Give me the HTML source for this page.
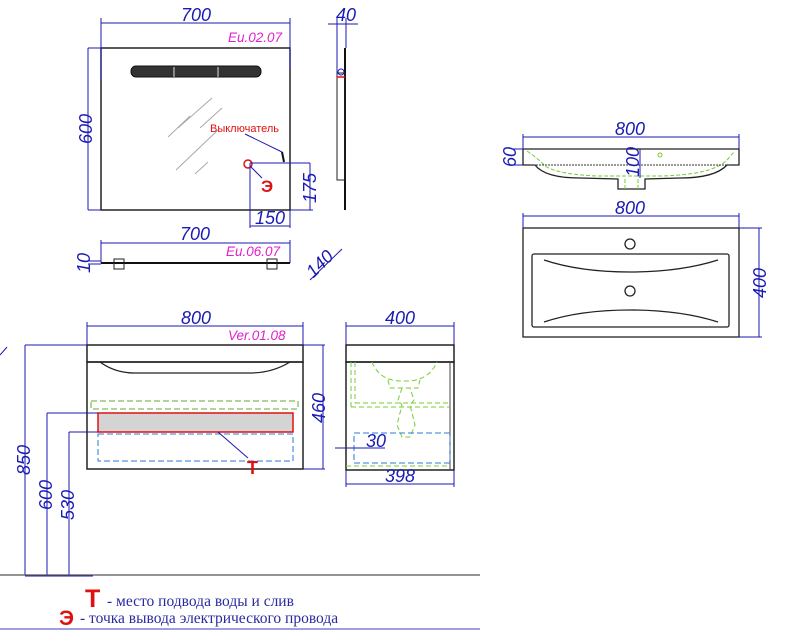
<!DOCTYPE html>
<html><head><meta charset="utf-8"><style>
html,body{margin:0;padding:0;background:#fff;width:800px;height:635px;overflow:hidden}
svg{display:block}
.d{font-family:"Liberation Sans",sans-serif;font-style:italic;fill:#1a1ab4;font-size:18px}
.m{font-family:"Liberation Sans",sans-serif;font-style:italic;fill:#e020d0;font-size:13.5px}
</style></head><body>
<svg width="800" height="635" viewBox="0 0 800 635" xmlns="http://www.w3.org/2000/svg">
<g fill="none" stroke-width="1">
<rect x="101" y="48" width="189" height="162" stroke="#222" stroke-width="1.5"/>
<rect x="131" y="66" width="130" height="11" rx="5" fill="#333" stroke="#111"/>
<line x1="174" y1="67" x2="174" y2="77" stroke="#ddd"/><line x1="218" y1="67" x2="218" y2="77" stroke="#ddd"/>
<g stroke="#aaa"><line x1="168" y1="137" x2="190" y2="116"/><line x1="178" y1="128" x2="212" y2="98"/><line x1="200" y1="128" x2="222" y2="108"/><line x1="176" y1="170" x2="218" y2="130"/><line x1="195" y1="174" x2="208" y2="162"/></g>
<line x1="245" y1="134" x2="282" y2="152" stroke="#1a1ab4"/>
<line x1="282" y1="152" x2="284" y2="162" stroke="#111" stroke-width="2"/>
<circle cx="248" cy="164" r="4" stroke="#e01010" stroke-width="1.5"/>
<line x1="250" y1="166" x2="262" y2="178" stroke="#1a1ab4"/>
<g stroke="#1a1ab4">
<line x1="101" y1="23" x2="290" y2="23"/><line x1="101" y1="18" x2="101" y2="80"/><line x1="290" y1="18" x2="290" y2="70"/>
<line x1="88" y1="48" x2="101" y2="48"/><line x1="88" y1="210" x2="101" y2="210"/><line x1="88" y1="48" x2="88" y2="210"/>
<line x1="250" y1="163" x2="310" y2="163"/><line x1="310" y1="163" x2="310" y2="210"/><line x1="290" y1="210" x2="313" y2="210"/>
<line x1="250" y1="163" x2="250" y2="228"/><line x1="250" y1="226" x2="290" y2="226"/><line x1="290" y1="210" x2="290" y2="228"/>
</g>
<line x1="345" y1="48" x2="345" y2="210" stroke="#111" stroke-width="2"/>
<rect x="337" y="73" width="8" height="107" stroke="#222"/>
<circle cx="341" cy="72" r="3" stroke="#1a1ab4"/><line x1="337" y1="77" x2="345" y2="77" stroke="#e01010" stroke-width="1.5"/>
<g stroke="#1a1ab4"><line x1="328" y1="24" x2="358" y2="24"/><line x1="337" y1="18" x2="337" y2="73"/><line x1="346" y1="18" x2="346" y2="48"/></g>
<g stroke="#1a1ab4"><line x1="101" y1="243" x2="290" y2="243"/><line x1="101" y1="240" x2="101" y2="263"/><line x1="290" y1="240" x2="290" y2="263"/>
<line x1="88" y1="261" x2="101" y2="261"/><line x1="88" y1="264" x2="101" y2="264"/>
<line x1="310" y1="280" x2="342" y2="249"/></g>
<line x1="101" y1="263" x2="290" y2="263" stroke="#111" stroke-width="2"/>
<rect x="114" y="259" width="10" height="10" stroke="#222"/><rect x="267" y="259" width="10" height="10" stroke="#222"/>
<rect x="87" y="345" width="216" height="17" stroke="#222" stroke-width="1.5"/>
<rect x="87" y="362" width="216" height="107" stroke="#222" stroke-width="1.5"/>
<path d="M100 362 Q115 373 135 373 L250 373 Q272 373 290 362" stroke="#222" stroke-width="1.3"/>
<rect x="91" y="401" width="207" height="8" stroke="#6a3" stroke-dasharray="6 3"/>
<rect x="98" y="413" width="195" height="19" fill="#d4d4d4" stroke="#e01010" stroke-width="1.5"/>
<rect x="98" y="434" width="195" height="27" stroke="#2a7ad8" stroke-dasharray="6 3"/>
<line x1="218" y1="432" x2="248" y2="458" stroke="#1a1ab4"/>
<g stroke="#1a1ab4">
<line x1="87" y1="326" x2="303" y2="326"/><line x1="87" y1="322" x2="87" y2="345"/><line x1="303" y1="322" x2="303" y2="345"/>
<line x1="303" y1="345" x2="325" y2="345"/><line x1="303" y1="469" x2="325" y2="469"/><line x1="323" y1="345" x2="323" y2="469"/>
<line x1="25" y1="345" x2="87" y2="345"/><line x1="25" y1="345" x2="25" y2="575"/>
<line x1="47" y1="413" x2="98" y2="413"/><line x1="47" y1="413" x2="47" y2="575"/>
<line x1="69" y1="432" x2="98" y2="432"/><line x1="69" y1="432" x2="69" y2="575"/>
<line x1="25" y1="576" x2="93" y2="576"/>
<line x1="0" y1="355" x2="7" y2="347"/>
</g>
<line x1="0" y1="575" x2="480" y2="575" stroke="#555" stroke-width="1.3"/>
<line x1="0" y1="629" x2="480" y2="629" stroke="#6666cc" stroke-width="1.3"/>
<rect x="346" y="345" width="108" height="17" stroke="#222" stroke-width="1.5"/>
<rect x="346" y="362" width="108" height="108" stroke="#222" stroke-width="1.5"/>
<line x1="450" y1="362" x2="450" y2="470" stroke="#444"/>
<g stroke="#7c3" stroke-dasharray="5 3">
<line x1="351" y1="362" x2="351" y2="407"/><line x1="355" y1="362" x2="355" y2="403"/>
<line x1="351" y1="407" x2="450" y2="407"/><line x1="355" y1="403" x2="450" y2="403"/>
<path d="M372 362 Q380 382 404 381 Q428 382 437 362"/>
<path d="M388 380 L390 388 L418 388 L420 380"/>
<path d="M402 388 L398 400 L402 405 L397 425 L402 437 L410 437 L415 425 L410 405 L414 400 L410 388"/>
<line x1="346" y1="466" x2="450" y2="466"/>
</g>
<rect x="354" y="433" width="96" height="30" stroke="#2a7ad8" stroke-dasharray="6 3"/>
<g stroke="#1a1ab4">
<line x1="346" y1="326" x2="454" y2="326"/><line x1="346" y1="322" x2="346" y2="345"/><line x1="454" y1="322" x2="454" y2="345"/>
<line x1="346" y1="484" x2="454" y2="484"/><line x1="346" y1="470" x2="346" y2="487"/><line x1="454" y1="470" x2="454" y2="487"/>
<line x1="335" y1="448" x2="385" y2="448"/>
</g>
<path d="M523 149 L739 149 L739 165 L727 165 Q715 178 680 178 L645 179 L645 189 L618 189 L618 179 L580 178 Q545 178 535 165 L523 165 Z" stroke="#222" stroke-width="1.3"/>
<g stroke="#7c3" stroke-dasharray="4 2"><path d="M527 151 Q540 160 545 166 Q560 175 600 176 L660 176 Q712 175 727 160 L735 151"/><line x1="530" y1="165" x2="731" y2="165" stroke="#333" stroke-dasharray="2 1"/><line x1="625" y1="179" x2="625" y2="189"/><line x1="638" y1="179" x2="638" y2="189"/></g>
<circle cx="660" cy="155" r="2" stroke="#7c3"/>
<g stroke="#1a1ab4">
<line x1="523" y1="137" x2="739" y2="137"/><line x1="523" y1="134" x2="523" y2="149"/><line x1="739" y1="134" x2="739" y2="149"/>
<line x1="512" y1="149" x2="523" y2="149"/><line x1="512" y1="165" x2="523" y2="165"/>
<line x1="640" y1="149" x2="640" y2="178"/>
</g>
<rect x="523" y="228" width="216" height="109" stroke="#222" stroke-width="1.3"/>
<rect x="532" y="254" width="197" height="73" rx="2" stroke="#222" stroke-width="1.3"/>
<path d="M544 260 Q580 272 630 272 Q680 272 718 260" stroke="#222" stroke-width="1.3"/>
<path d="M544 322 Q580 310 630 310 Q680 310 718 322" stroke="#222" stroke-width="1.3"/>
<circle cx="630" cy="244" r="5" stroke="#222" stroke-width="1.3"/><circle cx="630" cy="291" r="5" stroke="#222" stroke-width="1.3"/>
<g stroke="#1a1ab4">
<line x1="523" y1="216" x2="739" y2="216"/><line x1="523" y1="213" x2="523" y2="228"/><line x1="739" y1="213" x2="739" y2="228"/>
<line x1="739" y1="228" x2="762" y2="228"/><line x1="739" y1="337" x2="762" y2="337"/><line x1="759" y1="228" x2="759" y2="337"/>
</g>
</g>
<text class="d" x="196" y="21" text-anchor="middle">700</text>
<text class="m" x="228" y="42">Eu.02.07</text>
<text class="d" transform="translate(92 129) rotate(-90)" text-anchor="middle">600</text>
<text x="210" y="132" font-family="Liberation Sans,sans-serif" font-size="11" fill="#e01010">Выключатель</text>
<text x="261" y="192" font-family="Liberation Sans,sans-serif" font-size="17" font-weight="bold" fill="#e01010">Э</text>
<text class="d" transform="translate(316 188) rotate(-90)" text-anchor="middle">175</text>
<text class="d" x="270" y="224" text-anchor="middle">150</text>
<text class="d" x="346" y="21" text-anchor="middle">40</text>
<text class="d" x="195" y="240" text-anchor="middle">700</text>
<text class="m" x="226" y="256">Eu.06.07</text>
<text class="d" transform="translate(90 263) rotate(-90)" text-anchor="middle">10</text>
<text class="d" transform="translate(324 268) rotate(-45)" text-anchor="middle">140</text>
<text class="d" x="196" y="324" text-anchor="middle">800</text>
<text class="m" x="228" y="340">Ver.01.08</text>
<text class="d" transform="translate(325 408) rotate(-90)" text-anchor="middle">460</text>
<text class="d" transform="translate(30 460) rotate(-90)" text-anchor="middle">850</text>
<text class="d" transform="translate(52 495) rotate(-90)" text-anchor="middle">600</text>
<text class="d" transform="translate(74 505) rotate(-90)" text-anchor="middle">530</text>
<text x="247" y="474" font-family="Liberation Sans,sans-serif" font-size="18" font-weight="bold" fill="#e01010">Т</text>
<text class="d" x="400" y="324" text-anchor="middle">400</text>
<text class="d" x="400" y="482" text-anchor="middle">398</text>
<text class="d" x="376" y="447" text-anchor="middle" font-size="17">30</text>
<text class="d" x="630" y="135" text-anchor="middle">800</text>
<text class="d" transform="translate(516 157) rotate(-90)" text-anchor="middle">60</text>
<text class="d" transform="translate(639 162) rotate(-90)" text-anchor="middle" font-size="7">100</text>
<text class="d" x="630" y="214" text-anchor="middle">800</text>
<text class="d" transform="translate(766 283) rotate(-90)" text-anchor="middle">400</text>
<text x="85" y="607" font-family="Liberation Sans,sans-serif" font-size="25" font-weight="bold" fill="#e01010">Т</text>
<text x="107" y="606" font-family="Liberation Serif,serif" font-size="15.5" fill="#2a2aa0">- место подвода воды и слив</text>
<text x="59" y="625" font-family="Liberation Sans,sans-serif" font-size="21" font-weight="bold" fill="#e01010">Э</text>
<text x="80" y="623" font-family="Liberation Serif,serif" font-size="15.5" fill="#2a2aa0">-  точка вывода электрического провода</text>
</svg>
</body></html>
